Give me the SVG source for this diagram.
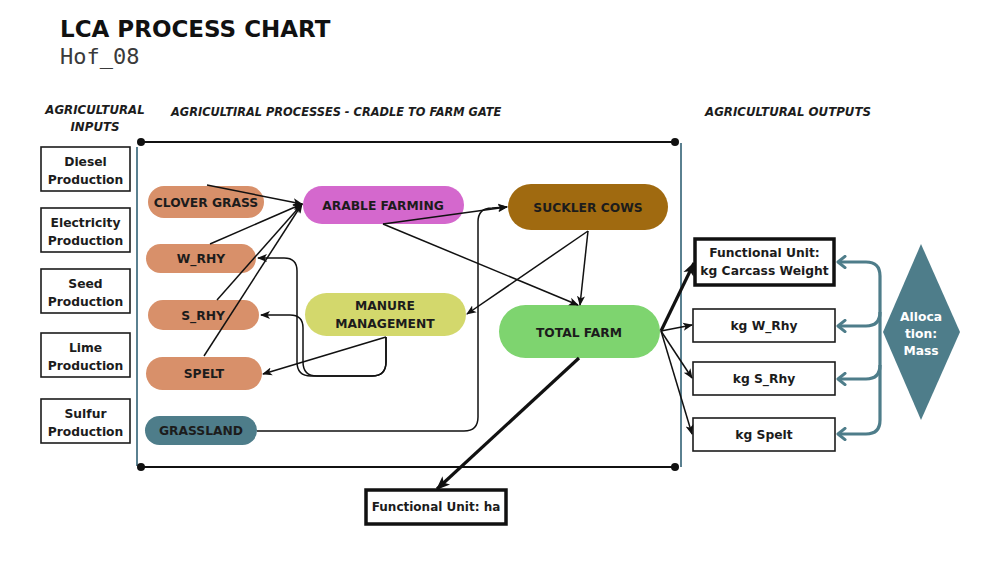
<svg xmlns="http://www.w3.org/2000/svg" width="1000" height="587" viewBox="0 0 1000 587">
<style>
.t{font-family:"DejaVu Sans","Liberation Sans",sans-serif;font-weight:bold;fill:#1c1c1c;text-anchor:middle}
.n{font-size:12.3px}
.h{font-family:"DejaVu Sans","Liberation Sans",sans-serif;font-weight:bold;font-style:italic;font-size:11.8px;fill:#1c1c1c}
.box{fill:#fff;stroke:#1c1c1c;stroke-width:1.6}
.fu{fill:#fff;stroke:#111;stroke-width:3.5}
.c{fill:none;stroke:#111;stroke-width:1.5}
.ck{fill:none;stroke:#111;stroke-width:3.2}
.tl{fill:none;stroke:#4e7d8a;stroke-width:3.2}
.sal{fill:#d8906a}
</style>
<defs>
<marker id="a" markerUnits="userSpaceOnUse" markerWidth="10" markerHeight="10" viewBox="0 0 10 10" refX="9" refY="5" orient="auto"><path d="M0,1 L10,5 L0,9 L2.5,5 Z" fill="#111"/></marker>
<marker id="ab" markerUnits="userSpaceOnUse" markerWidth="14" markerHeight="14" viewBox="0 0 10 10" refX="9" refY="5" orient="auto"><path d="M0,1 L10,5 L0,9 L2.5,5 Z" fill="#111"/></marker>
<marker id="at" markerUnits="userSpaceOnUse" markerWidth="14" markerHeight="14" viewBox="0 0 10 10" refX="8" refY="5" orient="auto-start-reverse"><path d="M3,1 L8,5 L3,9" fill="none" stroke="#4e7d8a" stroke-width="2.2" stroke-linecap="round" stroke-linejoin="round"/></marker>
</defs>
<rect width="1000" height="587" fill="#fff"/>

<g id="titles">
<text x="60" y="37" class="t" style="font-size:23px;text-anchor:start;fill:#111">LCA PROCESS CHART</text>
<text x="60" y="64" style="font-family:'DejaVu Sans Mono','Liberation Mono',monospace;font-size:22px;fill:#3a3a3a">Hof_08</text>
<text x="95" y="114" class="h" text-anchor="middle">AGRICULTURAL</text>
<text x="95" y="131" class="h" text-anchor="middle">INPUTS</text>
<text x="171" y="116" class="h" style="font-size:11.4px">AGRICULTIRAL PROCESSES - CRADLE TO FARM GATE</text>
<text x="705" y="116" class="h">AGRICULTURAL OUTPUTS</text>
</g>

<g id="frame">
<line x1="141" y1="142" x2="675" y2="142" stroke="#111" stroke-width="2"/>
<line x1="141" y1="467" x2="675" y2="467" stroke="#111" stroke-width="2"/>
<line x1="137" y1="147" x2="137" y2="466" stroke="#5a8090" stroke-width="2"/>
<line x1="681" y1="143" x2="681" y2="467" stroke="#5a8090" stroke-width="2"/>
<circle cx="141" cy="142" r="4" fill="#111"/>
<circle cx="675" cy="142" r="4" fill="#111"/>
<circle cx="141" cy="467" r="4" fill="#111"/>
<circle cx="675" cy="467" r="4" fill="#111"/>
</g>

<g id="in-diesel"><rect class="box" x="41" y="147" width="89" height="44"/><text class="t n" x="85.5" y="166">Diesel</text><text class="t n" x="85.5" y="184">Production</text></g>
<g id="in-electricity"><rect class="box" x="41" y="208" width="89" height="44"/><text class="t n" x="85.5" y="227">Electricity</text><text class="t n" x="85.5" y="245">Production</text></g>
<g id="in-seed"><rect class="box" x="41" y="269" width="89" height="44"/><text class="t n" x="85.5" y="288">Seed</text><text class="t n" x="85.5" y="306">Production</text></g>
<g id="in-lime"><rect class="box" x="41" y="333" width="89" height="44"/><text class="t n" x="85.5" y="352">Lime</text><text class="t n" x="85.5" y="370">Production</text></g>
<g id="in-sulfur"><rect class="box" x="41" y="399" width="89" height="44"/><text class="t n" x="85.5" y="418">Sulfur</text><text class="t n" x="85.5" y="436">Production</text></g>

<g id="n-clover"><rect class="sal" x="148" y="186" width="116" height="32" rx="16"/><text class="t n" x="206" y="207">CLOVER GRASS</text></g>
<g id="n-wrhy"><rect class="sal" x="146" y="244" width="110" height="29" rx="14.5"/><text class="t n" x="201" y="263">W_RHY</text></g>
<g id="n-srhy"><rect class="sal" x="148" y="300" width="111" height="30" rx="15"/><text class="t n" x="203" y="320">S_RHY</text></g>
<g id="n-spelt"><rect class="sal" x="146" y="357" width="116" height="33" rx="16.5"/><text class="t n" x="204" y="378">SPELT</text></g>
<g id="n-grassland"><rect fill="#4e7d8a" x="145" y="416" width="112" height="29" rx="14.5"/><text class="t n" x="201" y="435">GRASSLAND</text></g>
<g id="n-arable"><rect fill="#d468cd" x="303" y="186" width="161" height="38" rx="19"/><text class="t n" x="383" y="210">ARABLE FARMING</text></g>
<g id="n-manure"><rect fill="#d3d86c" x="305" y="293" width="161" height="43" rx="21.5"/><text class="t n" x="385" y="310">MANURE</text><text class="t n" x="385" y="328">MANAGEMENT</text></g>
<g id="n-suckler"><rect fill="#a06a10" x="508" y="184" width="160" height="46" rx="23"/><text class="t n" x="588" y="212">SUCKLER COWS</text></g>
<g id="n-total"><rect fill="#7ed46f" x="499" y="305" width="161" height="53" rx="26.5"/><text class="t n" x="579" y="337">TOTAL FARM</text></g>

<g id="out-carcass"><rect class="fu" x="695" y="239" width="139" height="46"/><text class="t n" x="764.5" y="257">Functional Unit:</text><text class="t n" x="764.5" y="275">kg Carcass Weight</text></g>
<g id="out-wrhy"><rect class="box" x="693" y="309" width="142" height="33"/><text class="t n" x="764" y="330">kg W_Rhy</text></g>
<g id="out-srhy"><rect class="box" x="693" y="362" width="142" height="33"/><text class="t n" x="764" y="383">kg S_Rhy</text></g>
<g id="out-spelt"><rect class="box" x="693" y="418" width="142" height="33"/><text class="t n" x="764" y="439">kg Spelt</text></g>
<g id="out-ha"><rect class="fu" x="366" y="490" width="140" height="34"/><text class="t n" x="436" y="511" style="font-size:12px">Functional Unit: ha</text></g>
<g id="allocation"><polygon points="921,244 960,332 921,420 883,332" fill="#4e7d8a"/><text class="t n" x="921" y="321" style="fill:#fff">Alloca</text><text class="t n" x="921" y="338" style="fill:#fff">tion:</text><text class="t n" x="921" y="355" style="fill:#fff">Mass</text></g>

<g id="connectors">
<path class="c" d="M207,185 L302,204" marker-end="url(#a)"/>
<path class="c" d="M210,244 L302,204" marker-end="url(#a)"/>
<path class="c" d="M217,300 L302,204" marker-end="url(#a)"/>
<path class="c" d="M204,356 L302,204" marker-end="url(#a)"/>
<path class="c" d="M383,224 L507,207" marker-end="url(#a)"/>
<path class="c" d="M383,224 L578,305" marker-end="url(#a)"/>
<path class="c" d="M588,231 L467,314" marker-end="url(#a)"/>
<path class="c" d="M588,231 L580,305" marker-end="url(#a)"/>
<path class="c" d="M257,431 H464 Q478,431 478,417 V222 Q478,208 492,208 L507,207" marker-end="url(#a)"/>
<path class="c" d="M386,337 L263,374" marker-end="url(#a)"/>
<path class="c" d="M386,337 V362 Q386,376 372,376 H311 Q297,376 297,362 V271 Q297,258 284,258 H258" marker-end="url(#a)"/>
<path class="c" d="M386,337 V362 Q386,376 372,376 H317 Q303,376 303,362 V328 Q303,315 290,315 H261" marker-end="url(#a)"/>
<path class="ck" d="M661,331 L694,263" marker-end="url(#ab)"/>
<path class="c" d="M661,331 L692,325" marker-end="url(#a)"/>
<path class="c" d="M661,331 L692,378" marker-end="url(#a)"/>
<path class="c" d="M661,331 L692,434" marker-end="url(#a)"/>
<path class="ck" d="M579,358 L437,489" marker-end="url(#ab)"/>
<path class="tl" d="M838,262 H866 Q880,262 880,276 V420 Q880,434 866,434 H838" marker-start="url(#at)" marker-end="url(#at)"/>
<path class="tl" d="M880,312 Q880,326 866,326 H838" marker-end="url(#at)"/>
<path class="tl" d="M880,365 Q880,379 866,379 H838" marker-end="url(#at)"/>
</g>
</svg>
